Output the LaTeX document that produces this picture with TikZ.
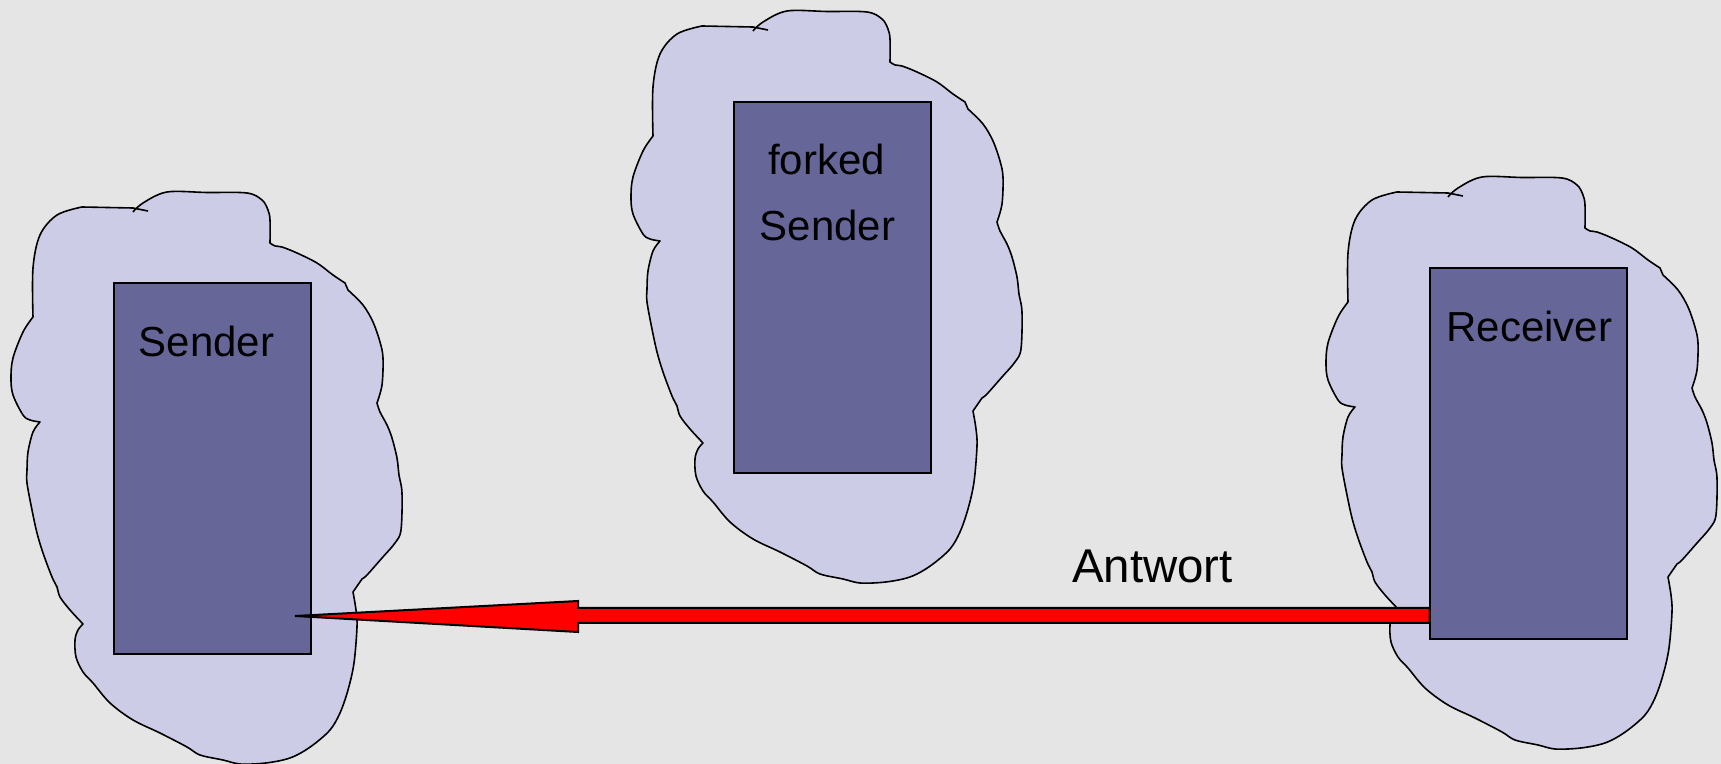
\documentclass[tikz,border=0pt]{standalone}
\usepackage{fontspec}
\setmainfont{Liberation Sans}
\usetikzlibrary{calc}
\definecolor{bg}{RGB}{229,229,229}
\definecolor{cloudfill}{RGB}{204,204,230}
\definecolor{boxfill}{RGB}{102,102,153}

% freehand outline of one process cloud (drawn for the left one, shifted for the others)
\def\blobpath{%
  plot[smooth,tension=0.55] coordinates {(133,212) (143,203) (167,192) (207,192.5) (247,193) (262,200) (268,210) (270,220) (270,243)}
  -- plot[smooth,tension=0.55] coordinates {(270,243) (275,246) (282,247) (297,253) (317,263) (333,275) (345,283)}
  -- plot[smooth,tension=0.55] coordinates {(348,290) (363,305) (373,322) (380,342) (383,358) (382,385) (377,403)}
  -- plot[smooth,tension=0.55] coordinates {(377,403) (380,412) (387,425) (392,438) (397,458) (399,475) (402,493) (401,530) (395,543) (382,558) (367,575) (362,579)}
  -- (353,592)
  -- plot[smooth,tension=0.55] coordinates {(353,592) (356,610) (357,627) (354,663) (348,690) (340,713) (330,730) (313,745) (297,755) (283,760) (263,763.3) (240,764) (223,760) (200,755) (187,747) (160,733) (133,720) (110,703) (93,683) (83,672) (76,657) (75,640) (78,630) (83,624)}
  -- plot[smooth,tension=0.55] coordinates {(83,624) (70,610) (60,597) (57,587) (52,577) (43,553) (37,533) (32,510) (27,483) (27,470) (28,452) (33,432) (40,422)}
  -- plot[smooth,tension=0.55] coordinates {(40,422) (30,420) (23,415) (13,395) (11,378) (13,358) (23,332) (33,317)}
  -- plot[smooth,tension=0.55] coordinates {(33,317) (33,268) (40,235) (57,215) (82,207)}
  -- (133,208) -- (148,211)}

\begin{document}
\begin{tikzpicture}[x=0.5pt,y=-0.5pt,
  cloudline/.style={draw=black, line width=0.8pt, fill=cloudfill, line join=round},
  procbox/.style={draw=black, line width=1pt, fill=boxfill, minimum width=98.5pt,
    minimum height=185.5pt, inner sep=0pt, outer sep=0pt},
  lbl/.style={font=\fontsize{21}{25}\selectfont, anchor=base, inner sep=0pt},
  biglbl/.style={font=\fontsize{23.7}{28}\selectfont, anchor=base, inner sep=0pt},
  reply/.style={draw=black, line width=1pt, fill=red, line join=miter}]

\useasboundingbox (0,0) rectangle (1721,764);
\fill[bg] (0,0) rectangle (1721,764);

% clouds
\filldraw[cloudline] \blobpath;
\begin{scope}[shift={(620,-181)}]
  \filldraw[cloudline] \blobpath;
\end{scope}
\begin{scope}[shift={(1315,-15)}]
  \filldraw[cloudline] \blobpath;
\end{scope}

% processes
\node[procbox] (snd) at (212.5,468.5) {};
\node[procbox] (fork) at (832.5,287.5) {};
\node[procbox] (rcv) at (1528,453.5) {};

\node[lbl] (sndlbl) at (206.5,357) {Sender};
\node[lbl] (forklbla) at (826.5,175) {forked};
\node[lbl] (forklblb) at (827.5,241) {Sender};
\node[lbl] (rcvlbl) at (1529.5,342) {Receiver};

% reply arrow from Receiver back to Sender
\coordinate (tip) at ($(snd.east)+(-16,147.5)$);
\coordinate (shaftend) at (rcv.west |- tip);
\filldraw[reply] (tip) -- ($(tip)+(283,-15)$) -- ($(tip)+(283,-8)$)
  -- ($(shaftend)+(0,-8)$) -- ($(shaftend)+(0,7)$)
  -- ($(tip)+(283,7)$) -- ($(tip)+(283,16)$) -- cycle;

\node[biglbl] (reply) at (1152.5,583) {Antwort};
\end{tikzpicture}
\end{document}
